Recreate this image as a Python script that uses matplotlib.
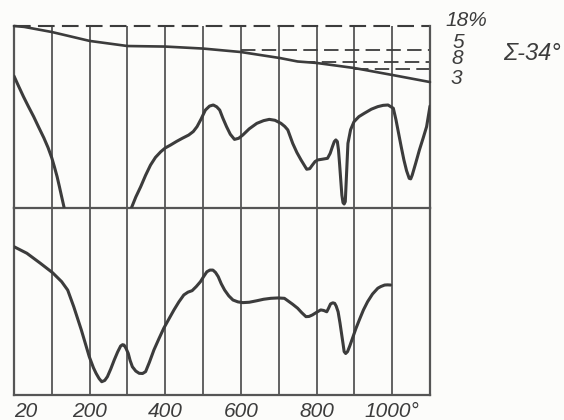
import matplotlib
matplotlib.use("Agg")
import matplotlib.pyplot as plt

# Temperature axis (deg C); first grid line is the start of heating (20 deg)
grid_temps = [0, 100, 200, 300, 400, 500, 600, 700, 800, 900, 1000, 1100]
tick_temps = [0, 200, 400, 600, 800, 1000]
tick_labels = ["20", "200", "400", "600", "800", "1000°"]

# Thermogravimetric curve (relative units, 100 = initial mass)
tg_t = [0, 27, 100, 200, 300, 400, 500, 600, 703, 750, 800, 900, 1000, 1100]
tg_v = [100, 99.5, 96.7, 91.8, 89.0, 88.7, 87.6, 85.7, 82.4, 80.5, 79.7, 76.9, 73.1, 69.2]

# Mass-loss reference levels and where each starts
level_v = [86.8, 80.4, 76.4]
level_start = [600, 758, 900]
step_labels = ["18%", "5", "8", "3"]
total_label = "Σ-34°"

# Upper DTA trace, first branch (runs off scale)
dta1a_t = [0, 12, 25, 38, 52, 65, 79, 90, 100, 107, 114, 120, 126, 132, 134]
dta1a_v = [72.5, 67.0, 61.2, 55.8, 50.2, 44.5, 38.5, 33.2, 27.5, 22.5, 17.2, 11.8,
           6.2, 0.7, -2.2]

# Upper DTA trace, second branch
dta1b_t = [308, 310, 322, 335, 348, 361, 374, 388, 400, 414, 430, 445, 462, 474,
           484, 495, 506, 517, 527, 536, 544, 552, 562, 572, 583, 594, 605, 622,
           642, 660, 675, 690, 706, 716, 724, 737, 748, 759, 774, 782, 789, 796,
           803, 815, 829, 836, 842, 847, 851, 855, 858, 861, 864, 867, 870, 873,
           876, 879, 883, 890, 899, 912, 926, 945, 962, 976, 989, 1003, 1010, 1017,
           1024, 1031, 1038, 1045, 1049, 1053, 1062, 1072, 1082, 1091, 1100]
dta1b_v = [-2.0, -0.2, 6.0, 11.7, 18.0, 23.6, 27.8, 30.9, 33.0, 34.6, 36.6, 38.3,
           40.1, 42.0, 44.7, 49.0, 53.8, 56.0, 56.6, 55.6, 53.8, 49.5, 44.7, 40.5,
           37.7, 38.3, 40.1, 43.5, 46.5, 48.0, 48.7, 48.2, 46.5, 44.8, 42.9, 35.5,
           30.5, 26.4, 21.3, 21.6, 23.6, 25.5, 26.4, 26.8, 27.3, 30.0, 33.7, 36.5,
           37.4, 36.5, 31.9, 24.0, 15.4, 7.0, 2.9, 2.2, 3.5, 17.2, 35.5, 43.0, 47.4,
           50.2, 52.0, 54.3, 55.7, 56.4, 56.6, 54.8, 48.5, 41.0, 33.5, 26.4, 20.5,
           16.3, 16.0, 18.1, 24.5, 31.9, 38.5, 44.7, 56.0]

# Lower DTA trace
dta2_t = [0, 34, 70, 102, 126, 142, 158, 178, 199, 210, 217, 225, 232, 240, 247,
          256, 265, 274, 282, 287, 291, 296, 302, 307, 313, 322, 331, 340, 348,
          358, 370, 383, 396, 410, 423, 436, 449, 460, 471, 482, 493, 502, 510,
          518, 526, 533, 540, 548, 557, 568, 579, 592, 605, 622, 642, 660, 679,
          698, 715, 724, 737, 750, 761, 772, 780, 789, 800, 811, 819, 827, 832,
          837, 843, 848, 852, 857, 862, 866, 870, 873, 877, 882, 888, 895, 904,
          913, 924, 935, 948, 962, 970, 980, 988, 996]
dta2_v = [79.3, 75.8, 70.4, 65.4, 60.6, 56.1, 47.2, 34.8, 20.5, 14.6, 11.6, 8.8,
          7.1, 7.8, 9.8, 14.0, 18.7, 23.0, 26.2, 26.9, 26.7, 25.0, 22.3, 18.5,
          15.1, 12.8, 11.6, 11.5, 12.5, 17.5, 24.1, 30.0, 35.7, 40.8, 45.5, 49.8,
          53.5, 55.0, 55.8, 58.0, 60.6, 63.5, 65.9, 66.8, 66.8, 65.5, 63.3, 59.5,
          56.1, 53.0, 50.8, 49.8, 49.4, 49.6, 50.4, 51.2, 51.7, 51.9, 51.7, 50.4,
          48.5, 46.4, 44.0, 41.9, 42.0, 42.8, 44.2, 45.5, 45.2, 44.5, 46.5, 48.7,
          49.3, 49.0, 47.5, 44.5, 38.5, 33.0, 27.5, 23.2, 22.2, 23.2, 26.3, 30.3,
          35.5, 40.1, 45.5, 49.9, 54.0, 57.1, 58.0, 58.8, 58.9, 58.8]

INK = "#3c3c3c"
GRID = "#555555"
PAPER = "#fcfcfa"
FONT = ["Liberation Sans", "DejaVu Sans"]

W, H = 564, 420
fig = plt.figure(figsize=(W / 100, H / 100), dpi=100, facecolor=PAPER)

left, right = 14 / W, 430 / W
ax_top = fig.add_axes([left, 1 - 208 / H, right - left, 182 / H])
ax_bot = fig.add_axes([left, 1 - 395 / H, right - left, 187 / H])

for ax in (ax_top, ax_bot):
    ax.patch.set_alpha(0)
    ax.set_xlim(grid_temps[0], grid_temps[-1])
    ax.set_ylim(0, 100)
    for t in grid_temps[1:-1]:
        ax.axvline(t, color=GRID, lw=1.3, zorder=1)
    for s in ax.spines.values():
        s.set_color(GRID)
        s.set_linewidth(1.6)
    ax.tick_params(length=0)
    ax.set_yticks([])

ax_top.spines["top"].set_visible(False)
ax_bot.spines["top"].set_visible(False)
ax_top.set_xticks([])

# Mass curve and dashed loss levels
ax_top.plot(tg_t, tg_v, color=INK, lw=1.9, zorder=3, clip_on=False,
            solid_joinstyle="round", solid_capstyle="round")
ax_top.plot([grid_temps[0], grid_temps[-1]], [100, 100], color=INK, lw=1.5,
            ls=(0, (8, 3.5)), clip_on=False, zorder=2)
for v, t0 in zip(level_v, level_start):
    ax_top.plot([t0, grid_temps[-1]], [v, v], color=INK, lw=1.3,
                ls=(0, (8, 3.5)), zorder=2)

# DTA traces
kw = dict(color=INK, lw=2.2, zorder=3, solid_joinstyle="round", solid_capstyle="round")
ax_top.plot(dta1a_t, dta1a_v, **kw)
ax_top.plot(dta1b_t, dta1b_v, **kw)
ax_bot.plot(dta2_t, dta2_v, **kw)

ax_bot.set_xticks(tick_temps)
ax_bot.set_xticklabels(tick_labels, family=FONT, style="italic", fontsize=15,
                       color=INK)
ax_bot.get_xticklabels()[0].set_horizontalalignment("left")
ax_bot.tick_params(axis="x", pad=5)

# Step annotations at the right
txt = dict(family=FONT, style="italic", color=INK, ha="center", va="center")
for lab, (x, y) in zip(step_labels, [(466, 21), (458, 42), (457, 59), (456, 79)]):
    fig.text(x / W, 1 - y / H, lab, fontsize=15, **txt)
fig.text(532 / W, 1 - 53 / H, total_label, fontsize=17, **txt)

fig.savefig("out.png", dpi=100, facecolor=PAPER)
